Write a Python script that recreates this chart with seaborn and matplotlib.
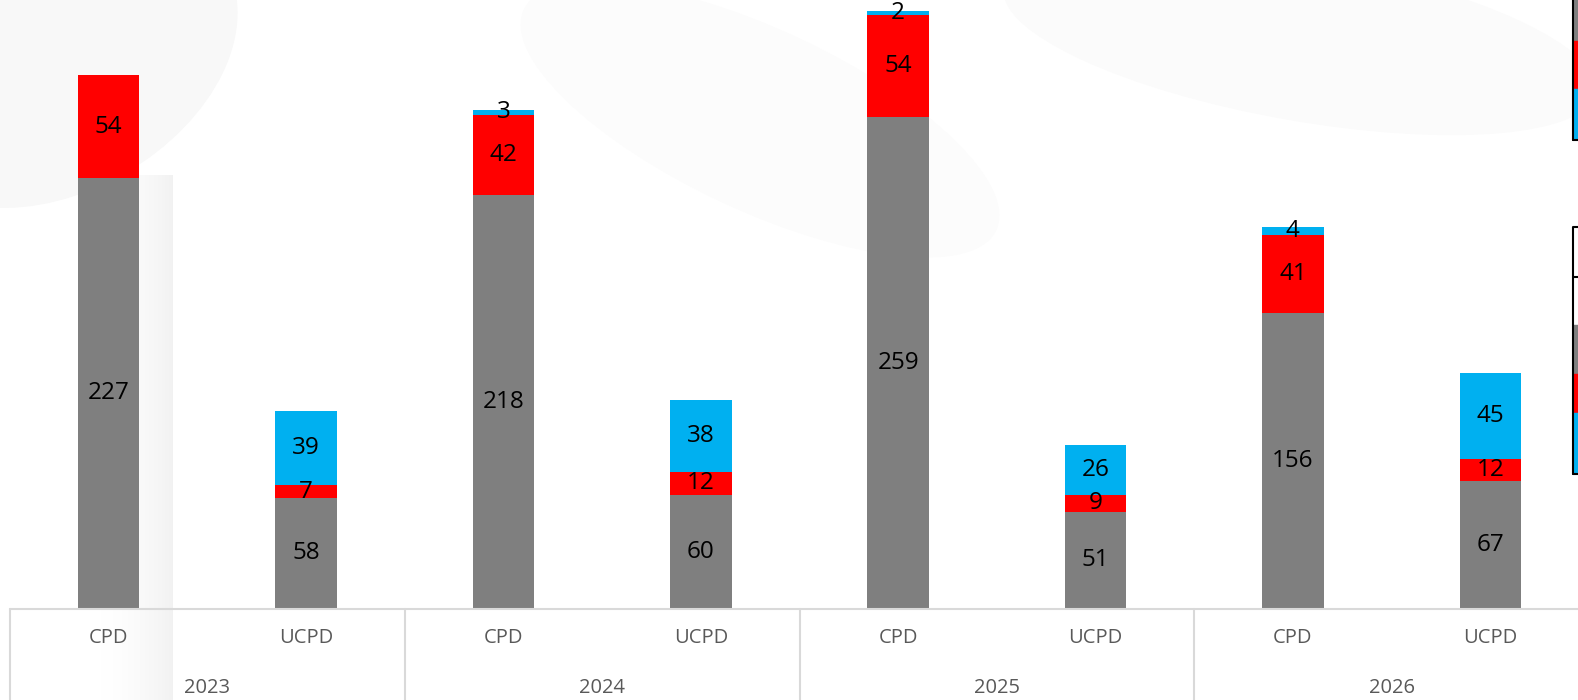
import numpy as np
import pandas as pd
import matplotlib
matplotlib.use("Agg")
import matplotlib.pyplot as plt
import matplotlib.patches as mpatches
import seaborn as sns

# data
years = ["2023", "2024", "2025", "2026"]
types = ["CPD", "UCPD"]
grey = [227, 58, 218, 60, 259, 51, 156, 67]
red = [54, 7, 42, 12, 54, 9, 41, 12]
blue = [0, 39, 3, 38, 2, 26, 4, 45]

GREY_C = "#7f7f7f"
RED_C = "#ff0000"
BLUE_C = "#00b0f0"

bar_keys = [f"{y} {t}" for y in years for t in types]
df = pd.DataFrame({"bar": bar_keys, "grey": grey, "red": red, "blue": blue})
df["grey_red"] = df["grey"] + df["red"]
df["total"] = df["grey_red"] + df["blue"]

sns.set_style("white")
plt.rcParams["font.family"] = ["Open Sans", "DejaVu Sans"]

W, H = 1578, 700
fig = plt.figure(figsize=(W / 100, H / 100), dpi=100)

# faint background decoration
bg = fig.add_axes([0, 0, 1, 1], zorder=-1)
bg.set_xlim(0, W)
bg.set_ylim(H, 0)
bg.axis("off")
grad = np.linspace(0, 1, 200).reshape(1, -1) ** 2
bg.imshow(grad, extent=[85, 173, H, 175], cmap="Greys", vmin=0, vmax=9,
          aspect="auto", zorder=0)
bg.add_patch(mpatches.Ellipse((60, 60), 380, 260, angle=-30, color="#f8f8f8", zorder=0))
bg.add_patch(mpatches.Ellipse((760, 120), 520, 180, angle=25, color="#fcfcfc", zorder=0))
bg.add_patch(mpatches.Ellipse((1300, 40), 600, 160, angle=10, color="#fbfbfb", zorder=0))

# clipped legend pieces on the right edge
bg.add_patch(mpatches.Rectangle((1573, 0), 10, 41, color=GREY_C))
bg.add_patch(mpatches.Rectangle((1573, 41), 10, 48, color=RED_C))
bg.add_patch(mpatches.Rectangle((1573, 89), 10, 50, color=BLUE_C))
bg.plot([1573, 1573], [0, 140], color="black", lw=1.5)
bg.plot([1573, 1578], [140, 140], color="black", lw=1.5)
bg.add_patch(mpatches.Rectangle((1573, 325), 10, 49, color=GREY_C))
bg.add_patch(mpatches.Rectangle((1573, 374), 10, 39, color=RED_C))
bg.add_patch(mpatches.Rectangle((1573, 413), 10, 60, color=BLUE_C))
bg.plot([1573, 1573, 1578], [474, 227, 227], color="black", lw=1.5)
bg.plot([1573, 1578], [474, 474], color="black", lw=1.5)
bg.plot([1573, 1578], [277, 277], color="black", lw=1.5)

# main axes, runs slightly past the right edge like the cropped original
base_px = 608.5
ax = fig.add_axes([10 / W, (H - base_px) / H, 1579 / W, base_px / H])
ax.patch.set_alpha(0)

for col, c in [("total", BLUE_C), ("grey_red", RED_C), ("grey", GREY_C)]:
    sns.barplot(data=df, x="bar", y=col, order=bar_keys, color=c, width=0.311,
                saturation=1, errorbar=None, edgecolor="none", ax=ax)

for i, row in df.iterrows():
    bottom = 0
    for col in ["grey", "red", "blue"]:
        v = row[col]
        if v > 0:
            ax.text(i, bottom + v / 2, str(v), ha="center", va="center",
                    fontsize=17.5, color="black")
        bottom += v

ax.set_xlim(-0.5, 7.5)
ax.set_ylim(0, 320.8)
ax.set_xlabel("")
ax.set_ylabel("")
ax.set_xticks([])
ax.set_yticks([])
for s in ax.spines.values():
    s.set_visible(False)

# two-level category axis
trans = ax.get_xaxis_transform()
depth = -(H - base_px) / base_px
line_c = "#d9d9d9"
ax.plot([-0.5, 7.5], [0, 0], transform=trans, color=line_c, lw=1.5, clip_on=False)
for xb in [-0.5, 1.5, 3.5, 5.5]:
    ax.plot([xb, xb], [0, depth], transform=trans, color=line_c, lw=1.5, clip_on=False)

lab_y = -(638 - base_px) / base_px
yr_y = -(688 - base_px) / base_px
for i, key in enumerate(bar_keys):
    ax.text(i, lab_y, key.split()[1], transform=trans, ha="center", va="center",
            fontsize=14.5, color="#595959")
for g, y in enumerate(years):
    ax.text(2 * g + 0.5, yr_y, y, transform=trans, ha="center", va="center",
            fontsize=14.5, color="#595959")

fig.savefig("out.png", dpi=100)
